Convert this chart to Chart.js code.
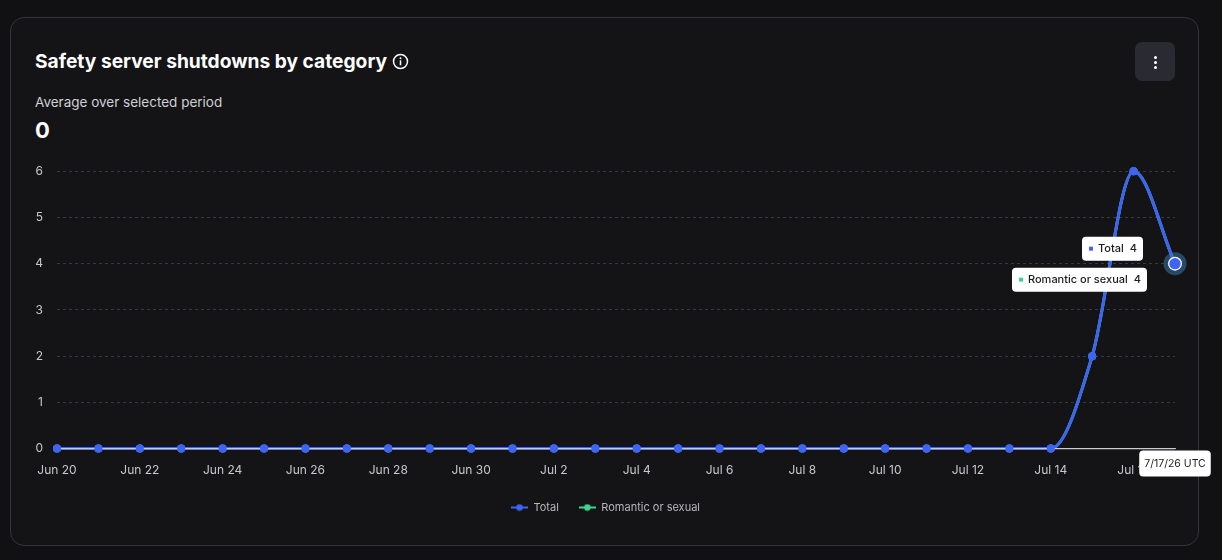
<!DOCTYPE html>
<html>
<head>
<meta charset="utf-8">
<script src="https://cdn.jsdelivr.net/npm/chart.js@4.4.1/dist/chart.umd.min.js"></script>
<style>
  html, body { margin: 0; padding: 0; background: #111113; width: 1222px; height: 560px; overflow: hidden; }
  body { font-family: Inter, "Noto Sans", sans-serif; color: #fff; position: relative; }
  .card { position: absolute; left: 10px; top: 17px; width: 1187px; height: 527px; border: 1px solid #34353a; border-radius: 14px; background: #141417; }
  .title { position: absolute; left: 35px; top: 48px; font: 700 19.2px/26px Inter, sans-serif; white-space: nowrap; }
  .title svg { vertical-align: -2px; margin-left: 5px; }
  .sub { position: absolute; left: 35px; top: 93px; font: 400 13.5px/18px Inter, sans-serif; color: #d0d0d4; }
  .avg { position: absolute; left: 35px; top: 116px; font: 700 22px/28px Inter, sans-serif; }
  .menu { position: absolute; left: 1135px; top: 42px; width: 40px; height: 39px; border-radius: 7px; background: #2a2b32; }
  .menu i { position: absolute; left: 19px; width: 3px; height: 3px; border-radius: 50%; background: #fff; }
  #chartWrap { position: absolute; left: 20px; top: 150px; width: 1195px; height: 385px; }
</style>
</head>
<body>
<div class="card"></div>
<div class="title">Safety server shutdowns by category<svg width="17" height="17" viewBox="0 0 17 17"><circle cx="8.5" cy="8.5" r="7" fill="none" stroke="#fff" stroke-width="1.5"/><rect x="7.75" y="7.3" width="1.5" height="5" fill="#fff"/><circle cx="8.5" cy="5.2" r="0.95" fill="#fff"/></svg></div>
<div class="sub">Average over selected period</div>
<div class="avg">0</div>
<div class="menu"><i style="top:14px"></i><i style="top:19px"></i><i style="top:24px"></i></div>
<div id="chartWrap"><canvas id="myChart"></canvas></div>
<script>
// 資料
const categories = ['Jun 20', 'Jun 21', 'Jun 22', 'Jun 23', 'Jun 24', 'Jun 25', 'Jun 26', 'Jun 27',
  'Jun 28', 'Jun 29', 'Jun 30', 'Jul 1', 'Jul 2', 'Jul 3', 'Jul 4', 'Jul 5', 'Jul 6', 'Jul 7',
  'Jul 8', 'Jul 9', 'Jul 10', 'Jul 11', 'Jul 12', 'Jul 13', 'Jul 14', 'Jul 15', 'Jul 16', 'Jul 17'];
const totalValues = [0, 0, 0, 0, 0, 0, 0, 0, 0, 0, 0, 0, 0, 0, 0, 0, 0, 0, 0, 0, 0, 0, 0, 0, 0, 2, 6, 4];
const romanticValues = [0, 0, 0, 0, 0, 0, 0, 0, 0, 0, 0, 0, 0, 0, 0, 0, 0, 0, 0, 0, 0, 0, 0, 0, 0, 2, 6, 4];
const yTicks = [0, 1, 2, 3, 4, 5, 6];
const hoverIndex = 27;
const hoverDate = '7/17/26 UTC';

const BLUE = '#3f63f5';
const GREEN = '#3ed68c';
const AXIS = '#c9cbd3';

Chart.defaults.font.family = 'Inter, "Noto Sans", sans-serif';
Chart.defaults.font.size = 12;
Chart.defaults.color = '#c8c8cc';

function legendMarker(color) {
  const c = document.createElement('canvas');
  c.width = 17; c.height = 8;
  const g = c.getContext('2d');
  g.strokeStyle = color; g.lineWidth = 2;
  g.beginPath(); g.moveTo(0, 4); g.lineTo(17, 4); g.stroke();
  g.fillStyle = color;
  g.beginPath(); g.arc(8.5, 4, 3.3, 0, Math.PI * 2); g.fill();
  return c;
}

function roundBox(ctx, x, y, w, h, r) {
  ctx.beginPath();
  ctx.roundRect(x, y, w, h, r);
  ctx.fill();
}

// 標籤框 (右對齊)
function drawTag(ctx, right, cy, color, label, value) {
  ctx.save();
  ctx.font = '500 11px Inter, sans-serif';
  const lw = ctx.measureText(label).width;
  const vw = ctx.measureText(value).width;
  const w = 7 + 4 + 5 + lw + 6 + vw + 6;
  const x = right - w, y = cy - 12;
  ctx.fillStyle = '#ffffff';
  roundBox(ctx, x, y, w, 24, 4);
  ctx.fillStyle = color;
  ctx.fillRect(x + 7, cy - 2, 4, 4);
  ctx.fillStyle = '#1c1c1e';
  ctx.textBaseline = 'middle';
  ctx.textAlign = 'left';
  ctx.fillText(label, x + 16, cy + 0.5);
  ctx.fillText(value, x + 16 + lw + 6, cy + 0.5);
  ctx.restore();
}

// 圖例置中於卡片
const legendShift = {
  id: 'legendShift',
  afterLayout(chart) {
    chart.legend.left += 8;
    chart.legend.right += 8;
  }
};

const hoverPlugin = {
  id: 'hoverPlugin',
  afterDatasetsDraw(chart) {
    const ctx = chart.ctx;
    const area = chart.chartArea;
    const meta = chart.getDatasetMeta(0);
    // 基準線畫在線條上方，再補上資料點
    const y0 = chart.scales.y.getPixelForValue(0);
    ctx.save();
    ctx.strokeStyle = AXIS;
    ctx.lineWidth = 1.2;
    ctx.beginPath(); ctx.moveTo(area.left, y0); ctx.lineTo(area.right, y0); ctx.stroke();
    ctx.restore();
    meta.data.forEach((pt, i) => { if (i !== hoverIndex) pt.draw(ctx, area); });

    const p = meta.data[hoverIndex];
    ctx.save();
    ctx.fillStyle = 'rgba(60, 125, 175, 0.5)';
    ctx.beginPath(); ctx.arc(p.x, p.y, 11.5, 0, Math.PI * 2); ctx.fill();
    ctx.fillStyle = '#ffffff';
    ctx.beginPath(); ctx.arc(p.x, p.y, 7, 0, Math.PI * 2); ctx.fill();
    ctx.fillStyle = BLUE;
    ctx.beginPath(); ctx.arc(p.x, p.y, 5.7, 0, Math.PI * 2); ctx.fill();
    ctx.restore();
  },
  afterDraw(chart) {
    const ctx = chart.ctx;
    const p = chart.getDatasetMeta(0).data[hoverIndex];
    drawTag(ctx, p.x - 32, p.y - 15, BLUE, chart.data.datasets[0].label, String(totalValues[hoverIndex]));
    drawTag(ctx, p.x - 28, p.y + 16, GREEN, chart.data.datasets[1].label, String(romanticValues[hoverIndex]));
    // 日期框
    ctx.save();
    ctx.font = '400 10.5px Inter, sans-serif';
    const w = ctx.measureText(hoverDate).width + 10;
    const top = chart.chartArea.bottom + 2;
    ctx.fillStyle = '#ffffff';
    roundBox(ctx, p.x - w / 2, top, w, 26, 4);
    ctx.fillStyle = '#1c1c1e';
    ctx.textAlign = 'center';
    ctx.textBaseline = 'middle';
    ctx.fillText(hoverDate, p.x, top + 13.5);
    ctx.restore();
  }
};

const ctx = document.getElementById('myChart').getContext('2d');
const chart = new Chart(ctx, {
  type: 'line',
  data: {
    labels: categories,
    datasets: [
      {
        label: 'Total',
        data: totalValues,
        borderColor: BLUE,
        backgroundColor: BLUE,
        borderWidth: 3,
        pointRadius: 4,
        pointBorderWidth: 0,
        cubicInterpolationMode: 'monotone',
        clip: false
      },
      {
        label: 'Romantic or sexual',
        data: romanticValues,
        borderColor: GREEN,
        backgroundColor: GREEN,
        borderWidth: 3,
        pointRadius: 4,
        pointBorderWidth: 0,
        cubicInterpolationMode: 'monotone',
        clip: false
      }
    ]
  },
  options: {
    responsive: true,
    maintainAspectRatio: false,
    animation: false,
    events: [],
    layout: { padding: { top: 21, right: 40, left: 0, bottom: 12 } },
    scales: {
      x: {
        type: 'category',
        offset: false,
        grid: { display: false, drawTicks: false },
        border: { display: true, color: AXIS, width: 1 },
        afterFit: (scale) => { scale.height -= 11; },
        ticks: {
          autoSkip: false,
          maxRotation: 0,
          padding: 15,
          color: '#c8c8cc',
          callback: (v, i) => (i % 2 === 0 ? categories[i] : '')
        }
      },
      y: {
        min: 0,
        max: 6,
        afterBuildTicks: (scale) => { scale.ticks = yTicks.map(v => ({ value: v })); },
        afterFit: (scale) => { scale.width = 37; },
        grid: { color: '#38393e', lineWidth: 1, drawTicks: false, tickBorderDash: [3, 3] },
        border: { display: false, dash: [3, 3] },
        ticks: { padding: 14, color: '#c8c8cc' }
      }
    },
    plugins: {
      tooltip: { enabled: false },
      legend: {
        position: 'bottom',
        labels: {
          usePointStyle: true,
          pointStyleWidth: 17,
          padding: 20,
          color: '#b8b8bc',
          font: { size: 11 },
          generateLabels: (c) => c.data.datasets.map((ds, i) => ({
            text: ds.label,
            pointStyle: legendMarker(ds.borderColor),
            fontColor: '#b8b8bc',
            datasetIndex: i,
            hidden: false,
            lineWidth: 0
          }))
        }
      }
    }
  },
  plugins: [legendShift, hoverPlugin]
});
</script>
</body>
</html>
